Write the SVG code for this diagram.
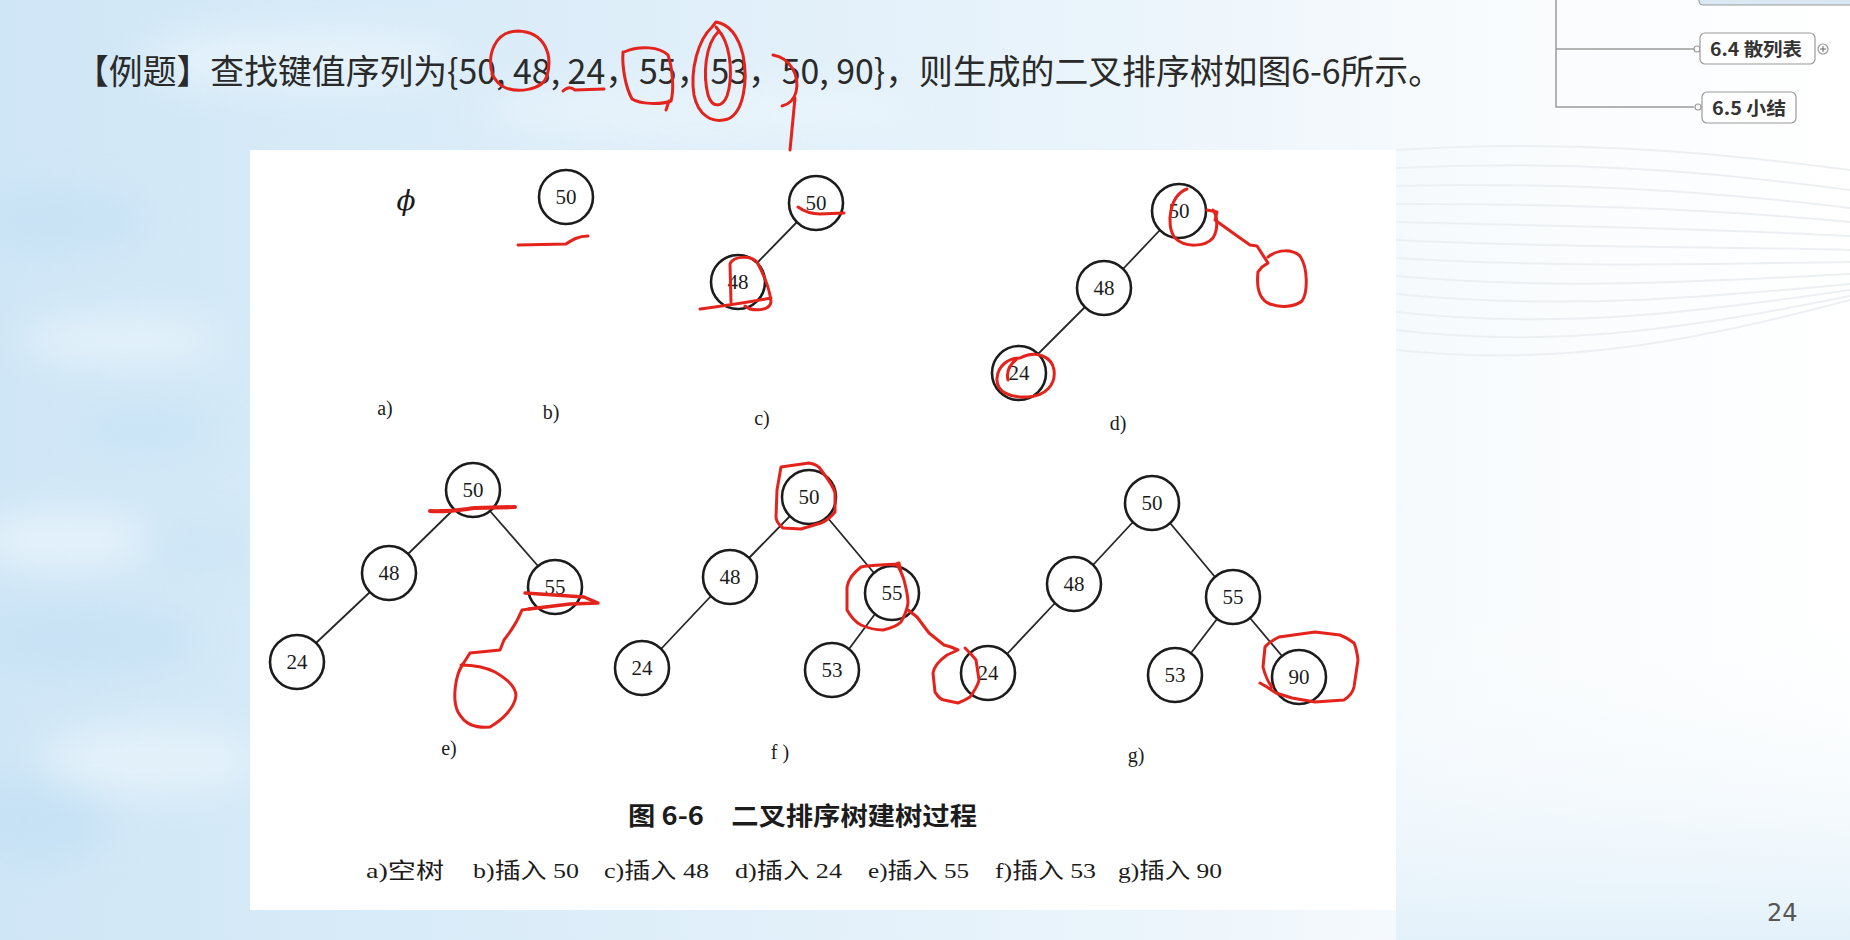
<svg xmlns="http://www.w3.org/2000/svg" width="1850" height="940" viewBox="0 0 1850 940">
<defs>
<linearGradient id="bg" x1="0" y1="0" x2="1" y2="0">
<stop offset="0" stop-color="#cfe6f6"/>
<stop offset="0.3" stop-color="#dcedf9"/>
<stop offset="0.6" stop-color="#eaf4fb"/>
<stop offset="0.8" stop-color="#f8fbfd"/>
<stop offset="1" stop-color="#ffffff"/>
</linearGradient>
<linearGradient id="br" x1="0" y1="0" x2="0" y2="1">
<stop offset="0" stop-color="#ffffff" stop-opacity="0"/>
<stop offset="1" stop-color="#e3f1fa" stop-opacity="1"/>
</linearGradient>
<filter id="blur" x="-50%" y="-50%" width="200%" height="200%"><feGaussianBlur stdDeviation="18"/></filter>
<style>
.node circle{fill:#fff;stroke:#1c1c1c;stroke-width:2.6}
.node text{font-family:"Liberation Serif",serif;font-size:21px;fill:#1c1c1c;text-anchor:middle}
.edges line{stroke:#262626;stroke-width:1.8}
.lbl{font-family:"Liberation Serif",serif;font-size:20px;fill:#1c1c1c;text-anchor:middle}
.red{fill:none;stroke:#e3231c;stroke-width:3;stroke-linecap:round;stroke-linejoin:round}
.mm{fill:#fff;stroke:#9a9a9a;stroke-width:1.2}
.mmt{font-family:"Noto Sans CJK SC",sans-serif;font-size:18px;font-weight:700;fill:#333}
.sub{font-family:"Liberation Serif","Noto Sans CJK SC",serif;font-size:22px;fill:#1c1c1c}
.wave{fill:none;stroke:#edf0f3;stroke-width:2}
</style>
</defs>

<!-- background -->
<rect x="0" y="0" width="1850" height="940" fill="url(#bg)"/>
<g filter="url(#blur)" opacity="0.6">
<ellipse cx="60" cy="220" rx="90" ry="30" fill="#c3e0f4"/>
<ellipse cx="150" cy="430" rx="70" ry="25" fill="#c5e2f5"/>
<ellipse cx="90" cy="640" rx="110" ry="35" fill="#c3e0f4"/>
<ellipse cx="200" cy="550" rx="60" ry="20" fill="#c8e3f5"/>
<ellipse cx="40" cy="820" rx="70" ry="45" fill="#c1dff4"/>
<ellipse cx="120" cy="340" rx="100" ry="25" fill="#eef7fc"/>
<ellipse cx="60" cy="540" rx="90" ry="30" fill="#f0f8fd"/>
<ellipse cx="150" cy="760" rx="110" ry="35" fill="#eef7fc"/>
<ellipse cx="300" cy="60" rx="160" ry="30" fill="#f0f8fd"/>
<ellipse cx="700" cy="110" rx="220" ry="25" fill="#eef7fc"/>
</g>
<rect x="1396" y="600" width="454" height="340" fill="url(#br)"/>
<g id="waves">
<path class="wave" d="M1396 150 C1560 140 1700 150 1850 170"/>
<path class="wave" d="M1396 168 C1560 160 1700 170 1850 190"/>
<path class="wave" d="M1396 186 C1560 182 1700 190 1850 208"/>
<path class="wave" d="M1396 204 C1560 204 1700 208 1850 222"/>
<path class="wave" d="M1396 222 C1560 226 1700 228 1850 236"/>
<path class="wave" d="M1396 240 C1560 248 1700 246 1850 250"/>
<path class="wave" d="M1396 258 C1560 268 1700 264 1850 262"/>
<path class="wave" d="M1396 276 C1560 290 1700 282 1850 274"/>
<path class="wave" d="M1396 294 C1560 310 1700 298 1850 284"/>
<path class="wave" d="M1396 312 C1560 330 1700 312 1850 290"/>
<path class="wave" d="M1396 330 C1560 350 1700 326 1850 296"/>
<path class="wave" d="M1396 350 C1560 368 1700 340 1850 300"/>
</g>

<!-- mind map fragment -->
<g id="mindmap">
<rect x="1699" y="-10" width="170" height="15" rx="4" fill="#d9e8f3" stroke="#9a9a9a" stroke-width="1.2"/>
<path d="M1556 0 V107 H1694 M1556 49 H1694" fill="none" stroke="#9a9a9a" stroke-width="1.5"/>
<circle cx="1697" cy="49" r="3" fill="#fff" stroke="#9a9a9a" stroke-width="1.2"/>
<circle cx="1698" cy="107" r="3" fill="#fff" stroke="#9a9a9a" stroke-width="1.2"/>
<g id="mm-64"><rect class="mm" x="1700" y="33" width="115" height="31" rx="5"/>
<text class="mmt" x="1710" y="56" textLength="92" lengthAdjust="spacingAndGlyphs">6.4 散列表</text></g>
<circle cx="1823" cy="49" r="5" fill="#fff" stroke="#9a9a9a" stroke-width="1.2"/>
<path d="M1820 49 H1826 M1823 46 V52" stroke="#666" stroke-width="1"/>
<g id="mm-65"><rect class="mm" x="1702" y="92" width="94" height="31" rx="5"/>
<text class="mmt" x="1712" y="115" textLength="74" lengthAdjust="spacingAndGlyphs">6.5 小结</text></g>
</g>

<!-- title -->
<text id="title" x="75" y="84" font-family="Noto Sans CJK SC, sans-serif" font-size="34" fill="#2a2a2a" textLength="1367" lengthAdjust="spacingAndGlyphs">【例题】查找键值序列为{50, 48, 24，55，53，50, 90}，则生成的二叉排序树如图6-6所示。</text>

<!-- figure panel -->
<rect id="panel" x="250" y="150" width="1146" height="760" fill="#ffffff"/>

<g id="connectors" class="edges">
<line x1="797" y1="222" x2="757" y2="263"/>
<line x1="1160" y1="230" x2="1123" y2="269"/>
<line x1="1085" y1="307" x2="1038" y2="354"/>
<line x1="454" y1="509" x2="408" y2="554"/>
<line x1="490" y1="511" x2="538" y2="566"/>
<line x1="370" y1="592" x2="316" y2="643"/>
<line x1="790" y1="516" x2="749" y2="558"/>
<line x1="827" y1="517" x2="874" y2="573"/>
<line x1="711" y1="596" x2="661" y2="649"/>
<line x1="875" y1="614" x2="849" y2="649"/>
<line x1="1133" y1="522" x2="1093" y2="565"/>
<line x1="1170" y1="523" x2="1215" y2="577"/>
<line x1="1055" y1="603" x2="1007" y2="654"/>
<line x1="1217" y1="619" x2="1191" y2="653"/>
<line x1="1250" y1="618" x2="1282" y2="656"/>
</g>

<text id="phi" x="406" y="210" font-family="DejaVu Serif, serif" font-style="italic" font-size="28" fill="#1c1c1c" text-anchor="middle">ϕ</text>

<g id="b-50" class="node"><circle cx="566" cy="197" r="27"/><text x="566" y="204">50</text></g>
<g id="c-50" class="node"><circle cx="816" cy="203" r="27"/><text x="816" y="210">50</text></g>
<g id="c-48" class="node"><circle cx="738" cy="282" r="27"/><text x="738" y="289">48</text></g>
<g id="d-50" class="node"><circle cx="1179" cy="211" r="27"/><text x="1179" y="218">50</text></g>
<g id="d-48" class="node"><circle cx="1104" cy="288" r="27"/><text x="1104" y="295">48</text></g>
<g id="d-24" class="node"><circle cx="1019" cy="373" r="27"/><text x="1019" y="380">24</text></g>
<g id="e-50" class="node"><circle cx="473" cy="490" r="27"/><text x="473" y="497">50</text></g>
<g id="e-48" class="node"><circle cx="389" cy="573" r="27"/><text x="389" y="580">48</text></g>
<g id="e-55" class="node"><circle cx="555" cy="587" r="27"/><text x="555" y="594">55</text></g>
<g id="e-24" class="node"><circle cx="297" cy="662" r="27"/><text x="297" y="669">24</text></g>
<g id="f-50" class="node"><circle cx="809" cy="497" r="27"/><text x="809" y="504">50</text></g>
<g id="f-48" class="node"><circle cx="730" cy="577" r="27"/><text x="730" y="584">48</text></g>
<g id="f-55" class="node"><circle cx="892" cy="593" r="27"/><text x="892" y="600">55</text></g>
<g id="f-24" class="node"><circle cx="642" cy="668" r="27"/><text x="642" y="675">24</text></g>
<g id="f-53" class="node"><circle cx="832" cy="670" r="27"/><text x="832" y="677">53</text></g>
<g id="g-50" class="node"><circle cx="1152" cy="503" r="27"/><text x="1152" y="510">50</text></g>
<g id="g-48" class="node"><circle cx="1074" cy="584" r="27"/><text x="1074" y="591">48</text></g>
<g id="g-55" class="node"><circle cx="1233" cy="597" r="27"/><text x="1233" y="604">55</text></g>
<g id="g-24" class="node"><circle cx="988" cy="673" r="27"/><text x="988" y="680">24</text></g>
<g id="g-53" class="node"><circle cx="1175" cy="675" r="27"/><text x="1175" y="682">53</text></g>
<g id="g-90" class="node"><circle cx="1299" cy="677" r="27"/><text x="1299" y="684">90</text></g>

<g id="labels">
<text class="lbl" x="385" y="415">a)</text>
<text class="lbl" x="551" y="419">b)</text>
<text class="lbl" x="762" y="425">c)</text>
<text class="lbl" x="1118" y="430">d)</text>
<text class="lbl" x="449" y="755">e)</text>
<text class="lbl" x="780" y="759">f )</text>
<text class="lbl" x="1136" y="762">g)</text>
</g>

<text id="caption" x="628" y="825" font-family="Noto Sans CJK SC, sans-serif" font-weight="700" font-size="25" fill="#1c1c1c" textLength="349" lengthAdjust="spacingAndGlyphs">图 6-6　二叉排序树建树过程</text>
<g id="subcaption">
<text class="sub" x="366" y="878" textLength="78" lengthAdjust="spacingAndGlyphs">a)空树</text>
<text class="sub" x="473" y="878" textLength="106" lengthAdjust="spacingAndGlyphs">b)插入 50</text>
<text class="sub" x="604" y="878" textLength="105" lengthAdjust="spacingAndGlyphs">c)插入 48</text>
<text class="sub" x="735" y="878" textLength="107" lengthAdjust="spacingAndGlyphs">d)插入 24</text>
<text class="sub" x="868" y="878" textLength="101" lengthAdjust="spacingAndGlyphs">e)插入 55</text>
<text class="sub" x="995" y="878" textLength="101" lengthAdjust="spacingAndGlyphs">f)插入 53</text>
<text class="sub" x="1118" y="878" textLength="104" lengthAdjust="spacingAndGlyphs">g)插入 90</text>
</g>

<text id="page" x="1767" y="921" font-family="DejaVu Sans, sans-serif" font-size="24" fill="#555">24</text>

<!-- red hand annotations -->
<g id="annotations" class="red">
<path d="M493 76 C486 55 495 31 518 31 C545 32 553 55 547 76 C542 91 516 93 504 87 C498 84 495 80 492 74"/>
<path d="M563 91 Q569 85 575 90 L604 89"/>
<path d="M624 52 C640 45 660 47 668 55 C673 70 674 90 671 101 C660 105 640 104 632 99 C625 86 622 66 623 52 M669 101 L666 110"/>
<path d="M716 22 L712 27 C698 40 690 70 694 95 C698 115 712 124 728 119 C744 112 748 80 743 55 C738 35 728 24 716 22"/>
<path d="M718 32 C705 45 703 75 708 95 C712 108 722 108 727 96 C733 78 731 50 722 35 L716 27"/>
<path d="M773 55 C790 58 800 75 796 92 C794 100 790 104 782 106 M795 98 L790 150"/>
<path d="M518 245 L566 244 C572 240 578 236 588 236"/>
<path d="M798 207 C805 212 812 214 820 214 L844 213"/>
<path d="M731 302 L730 264 C733 256 750 255 757 262 C764 275 770 290 771 302 C770 311 752 312 745 306 M700 309 C715 307 740 304 771 298"/>
<path d="M1187 189 C1170 195 1165 225 1175 238 C1185 248 1205 247 1213 238 C1219 228 1217 215 1213 210"/>
<path d="M1207 210 L1217 212 L1215 220 L1233 233 L1250 245 L1257 246 L1268 263 L1262 267 L1258 272 C1256 290 1260 300 1270 304 C1280 308 1295 307 1302 301 C1308 292 1308 268 1300 256 C1292 249 1278 249 1268 257"/>
<path d="M1020 358 C1035 350 1052 356 1054 370 C1056 385 1045 396 1028 397 C1010 398 996 392 997 378 C998 366 1008 358 1020 358 M1018 358 C1010 364 1006 372 1008 380"/>
<path d="M430 511 C450 512 465 509 475 508 L515 507" stroke-width="4"/>
<path d="M525 593 L584 597 L598 603 L570 604 L529 609" stroke-width="3.5"/>
<path d="M529 609 L522 610 C518 620 512 630 504 640 L500 650 L470 653 L463 664 C455 675 452 700 458 712 C465 725 475 728 490 727 C502 720 515 708 516 695 C515 685 505 678 495 672 C485 667 475 665 461 665"/>
<path d="M781 467 L809 463 C815 464 819 466 821 470 C827 478 833 485 835 493 L835 512 C830 518 826 521 821 523 L801 529 L783 528 C778 524 776 520 776 517 L777 490 Z"/>
<path d="M894 565 L899 563 L901 572 M897 564 C885 565 870 565 861 567 C852 574 848 580 847 587 L847 610 C851 617 855 622 861 625 C870 629 876 630 883 630 C892 628 897 626 901 622 C905 615 907 610 908 603 C908 595 906 588 904 580 C902 574 900 569 897 565"/>
<path d="M908 610 L917 617 L929 633 L944 645 L951 647 L958 650 L947 655 C940 660 934 666 933 673 L935 692 C938 697 942 700 944 700 L958 703 C963 701 967 699 970 697 C975 690 978 685 979 680 L976 660 C972 655 968 651 965 648"/>
<path d="M1260 683 L1267 687 L1276 693 L1292 698 L1315 702 L1344 700 C1350 696 1353 692 1354 687 L1358 660 C1357 652 1356 647 1354 643 C1349 639 1345 637 1340 635 L1315 632 L1279 637 C1273 640 1268 643 1265 647 L1263 667 C1265 675 1268 682 1272 687"/>
</g>
</svg>
